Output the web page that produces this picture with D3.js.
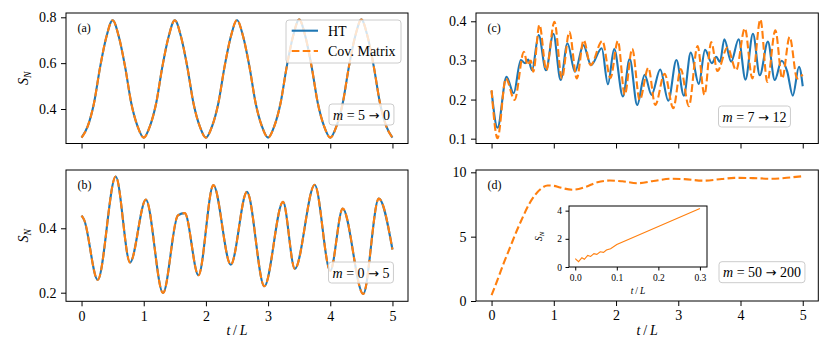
<!DOCTYPE html>
<html><head><meta charset="utf-8">
<script src="https://cdn.jsdelivr.net/npm/d3@7"></script>
<style>
body{margin:0;background:#fff}
svg{display:block}
text{font-family:"Liberation Serif","Times New Roman",serif;fill:#000}
</style>
</head><body>
<svg id="chart" width="830" height="352"></svg>
<script>
// ---------------- DATA ----------------
const xTicks = [0, 1, 2, 3, 4, 5];
const seriesNames = ["HT", "Cov. Matrix"];
const panelLabels = ["(a)", "(b)", "(c)", "(d)"];
const quenchLabels = [["5", "0"], ["0", "5"], ["7", "12"], ["50", "200"]];

// (a) m = 5 -> 0
const aT = [0,0.1,0.2,0.3,0.4,0.5,0.6,0.7,0.8,0.9,1,1.1,1.2,1.3,1.4,1.5,1.6,1.7,1.8,1.9,2,2.1,2.2,2.3,2.4,2.5,2.6,2.7,2.8,2.9,3,3.1,3.2,3.3,3.4,3.5,3.6,3.7,3.8,3.9,4,4.1,4.2,4.3,4.4,4.5,4.6,4.7,4.8,4.9,5];
const aHT = [0.275,0.325,0.425,0.585,0.715,0.787,0.715,0.585,0.425,0.325,
             0.275,0.325,0.425,0.585,0.715,0.787,0.715,0.585,0.425,0.325,
             0.275,0.325,0.425,0.585,0.715,0.788,0.715,0.585,0.425,0.325,
             0.275,0.325,0.425,0.585,0.716,0.790,0.716,0.585,0.425,0.325,
             0.275,0.325,0.425,0.585,0.716,0.790,0.716,0.585,0.425,0.325,0.275];
const aCov = aHT.slice();
const aYTicks = [0.4, 0.6, 0.8];

// (b) m = 0 -> 5
const bT  = [0,0.04,0.26,0.55,0.78,1.035,1.31,1.55,1.66,1.88,2.12,2.40,2.66,2.94,3.24,3.43,3.75,4.0,4.20,4.53,4.78,5.0];
const bHT = [0.439,0.427,0.240,0.561,0.294,0.489,0.199,0.440,0.447,0.254,0.534,0.287,0.513,0.220,0.482,0.274,0.535,0.268,0.461,0.196,0.492,0.334];
const bCov = bHT.slice();
const bYTicks = [0.2, 0.4];

// (c) m = 7 -> 12
const cT_HT = [0,0.096,0.24,0.355,0.47,0.54,0.59,0.65,0.757,0.874,0.993,1.11,1.22,1.34,1.475,1.60,1.77,1.87,1.97,2.11,2.22,2.34,2.46,2.57,2.71,2.84,2.97,3.09,3.20,3.33,3.43,3.54,3.61,3.67,3.74,3.85,3.97,4.08,4.20,4.31,4.44,4.55,4.66,4.75,4.84,4.94,5.0];
const cHT   = [0.222,0.128,0.258,0.216,0.301,0.293,0.302,0.275,0.365,0.275,0.368,0.250,0.344,0.271,0.339,0.288,0.331,0.239,0.329,0.208,0.304,0.186,0.263,0.212,0.277,0.197,0.301,0.210,0.320,0.240,0.327,0.293,0.309,0.296,0.354,0.297,0.354,0.251,0.368,0.262,0.348,0.250,0.299,0.272,0.210,0.284,0.234];
const cT_Cov = [0,0.096,0.23,0.37,0.52,0.58,0.63,0.67,0.77,0.88,1.01,1.13,1.25,1.37,1.48,1.59,1.78,1.91,2.03,2.14,2.26,2.38,2.52,2.63,2.78,2.92,3.04,3.17,3.31,3.42,3.53,3.63,3.79,3.93,4.07,4.19,4.32,4.43,4.56,4.67,4.79,4.91,5.0];
const cCov   = [0.224,0.101,0.254,0.199,0.322,0.288,0.300,0.271,0.391,0.275,0.399,0.254,0.373,0.254,0.352,0.288,0.350,0.255,0.350,0.212,0.330,0.199,0.281,0.186,0.266,0.178,0.278,0.183,0.337,0.212,0.347,0.273,0.333,0.275,0.382,0.254,0.405,0.245,0.377,0.254,0.360,0.254,0.264];
const cYTicks = [0.1, 0.2, 0.3, 0.4];

// (d) m = 50 -> 200
const dT   = [0,0.1,0.2,0.3,0.4,0.5,0.6,0.7,0.8,0.9,1.0,1.1,1.3,1.5,1.7,1.9,2.1,2.35,2.6,2.9,3.1,3.4,3.7,3.9,4.2,4.5,4.8,5.0];
const dCov = [0.45,1.7,3.0,4.2,5.4,6.5,7.5,8.25,8.75,8.98,8.95,8.82,8.65,8.85,9.22,9.36,9.30,9.15,9.33,9.50,9.47,9.35,9.48,9.57,9.55,9.50,9.60,9.70];
const dYTicks = [0, 5, 10];

// inset of (d)
const iT   = [0,0.008,0.016,0.022,0.03,0.037,0.045,0.052,0.06,0.068,0.075,0.085,0.1,0.15,0.2,0.25,0.3];
const iCov = [0.60,0.38,0.66,0.55,0.82,0.75,0.95,0.90,1.08,1.04,1.20,1.30,1.60,2.24,2.88,3.51,4.15];
const iXTicks = [0, 0.1, 0.2, 0.3];
const iYTicks = [0, 2, 4];

// ---------------- STYLE ----------------
const BLUE = "#1f77b4", ORANGE = "#ff7f0e";
const LW = 2.1, DASH = "7.7,3.3";
const SERIF = '"Liberation Serif","Times New Roman",serif';
const svg = d3.select("#chart");

function italicParts(sel, parts) {
  parts.forEach(p => {
    const ts = sel.append("tspan").text(p.t);
    if (p.i) ts.style("font-style", "italic");
    if (p.font) ts.style("font-family", p.font);
    if (p.fs) ts.attr("font-size", p.fs);
    if (p.sub) ts.attr("font-size", p.sub).attr("dy", p.dy || 0);
  });
}

function makePanel(box, xDom, yDom, yTicks, opts) {
  const g = svg.append("g");
  const x = d3.scaleLinear().domain(xDom).range([box.l, box.r]);
  const y = d3.scaleLinear().domain(yDom).range([box.b, box.t]);
  const fs = opts.fs || 14;
  const tl = opts.tl || 5;
  const xa = d3.axisBottom(x).tickValues(opts.xTicks).tickSizeOuter(0).tickSize(tl).tickPadding(opts.pad || 4.5)
    .tickFormat(opts.showX ? (opts.xfmt || d3.format("d")) : () => "");
  const ya = d3.axisLeft(y).tickValues(yTicks).tickSizeOuter(0).tickSize(tl).tickPadding(opts.pad || 4.5)
    .tickFormat(opts.yfmt || (d => String(d)));
  const gx = g.append("g").attr("transform", `translate(0,${box.b})`).call(xa);
  const gy = g.append("g").attr("transform", `translate(${box.l},0)`).call(ya);
  [gx, gy].forEach(a => {
    a.attr("font-family", null).attr("font-size", null);
    a.select(".domain").remove();
    a.selectAll("line").attr("stroke", "#000").attr("stroke-width", 1);
    a.selectAll("text").style("font-size", fs + "px").style("font-family", SERIF).attr("fill", "#000");
  });
  g.append("rect").attr("x", box.l).attr("y", box.t).attr("width", box.r - box.l).attr("height", box.b - box.t)
    .attr("fill", "none").attr("stroke", "#000").attr("stroke-width", 1);
  return { g, x, y };
}

function drawLine(p, xs, ys, color, dashed, lw, curve) {
  const pts = xs.map((t, i) => [t, ys[i]]);
  const line = d3.line().x(d => p.x(d[0])).y(d => p.y(d[1])).curve(curve || d3.curveMonotoneX);
  p.g.append("path").datum(pts).attr("d", line).attr("fill", "none").attr("stroke", color)
    .attr("stroke-width", lw || LW).attr("stroke-dasharray", dashed ? DASH : null);
}

function panelLabel(p, box, txt) {
  p.g.append("text").attr("x", box.l + 11.5).attr("y", box.t + 19).attr("font-size", 12).text(txt);
}

function quenchBox(p, left, top, lab) {
  const gg = p.g.append("g");
  const rect = gg.append("rect");
  const tx = gg.append("text").attr("x", left + 4).attr("y", top + 15.5).attr("font-size", 14);
  italicParts(tx, [{ t: "m", i: true }, { t: " = " + lab[0] + " " }, { t: "\u2192", font: '"DejaVu Sans",sans-serif', fs: 13 }, { t: " " + lab[1] }]);
  const w = tx.node().getComputedTextLength() + 8;
  rect.attr("x", left).attr("y", top).attr("width", w).attr("height", 21).attr("rx", 3)
    .attr("fill", "#fff").attr("fill-opacity", 0.8).attr("stroke", "#cccccc").attr("stroke-width", 1);
}

function yLabel(cx, cy, fs) {
  const t = svg.append("text").attr("transform", `translate(${cx},${cy}) rotate(-90)`)
    .attr("text-anchor", "middle").attr("font-size", fs);
  italicParts(t, [{ t: "S", i: true }, { t: "N", i: true, sub: fs * 0.7, dy: fs * 0.22 }]);
}
function xLabel(cx, by, fs) {
  const t = svg.append("text").attr("x", cx).attr("y", by).attr("text-anchor", "middle").attr("font-size", fs);
  italicParts(t, [{ t: "t", i: true }, { t: "\u2009/\u2009" }, { t: "L", i: true }]);
}

const XDOM = [-0.25, 5.25];
// (a)
const boxA = { l: 66, r: 408, t: 13, b: 143.5 };
const pA = makePanel(boxA, XDOM, [0.2495, 0.8188], aYTicks, { xTicks, showX: false });
drawLine(pA, aT, aHT, BLUE, false);
drawLine(pA, aT, aCov, ORANGE, true);
panelLabel(pA, boxA, panelLabels[0]);
quenchBox(pA, 329, 104, quenchLabels[0]);
// legend
const lg = pA.g.append("g");
lg.append("rect").attr("x", 286).attr("y", 20).attr("width", 115).attr("height", 43).attr("rx", 3)
  .attr("fill", "#fff").attr("fill-opacity", 0.8).attr("stroke", "#cccccc").attr("stroke-width", 1);
[[BLUE, false, 30.7], [ORANGE, true, 51]].forEach((s, i) => {
  lg.append("line").attr("x1", 291.7).attr("x2", 318).attr("y1", s[2]).attr("y2", s[2])
    .attr("stroke", s[0]).attr("stroke-width", LW).attr("stroke-dasharray", s[1] ? DASH : null);
  lg.append("text").attr("x", 328).attr("y", s[2] + 5).attr("font-size", 14).text(seriesNames[i]);
});
yLabel(28, (boxA.t + boxA.b) / 2, 14);

// (b)
const boxB = { l: 66, r: 408, t: 170, b: 301.3 };
const pB = makePanel(boxB, XDOM, [0.1733, 0.581], bYTicks, { xTicks, showX: true });
drawLine(pB, bT, bHT, BLUE, false);
drawLine(pB, bT, bCov, ORANGE, true);
panelLabel(pB, boxB, panelLabels[1]);
quenchBox(pB, 328.5, 262, quenchLabels[1]);
yLabel(28, (boxB.t + boxB.b) / 2, 14);
xLabel((boxB.l + boxB.r) / 2, 335, 14);

// (c)
const boxC = { l: 476, r: 818.3, t: 13, b: 143.5 };
const pC = makePanel(boxC, XDOM, [0.0877, 0.4212], cYTicks, { xTicks, showX: false });
drawLine(pC, cT_HT, cHT, BLUE, false);
drawLine(pC, cT_Cov, cCov, ORANGE, true);
panelLabel(pC, boxC, panelLabels[2]);
quenchBox(pC, 718.5, 106, quenchLabels[2]);

// (d)
const boxD = { l: 476, r: 818.3, t: 170, b: 301 };
const pD = makePanel(boxD, XDOM, [0, 10.18], dYTicks, { xTicks, showX: true });
drawLine(pD, dT, dCov, ORANGE, true);
panelLabel(pD, boxD, panelLabels[3]);
quenchBox(pD, 719, 261.7, quenchLabels[3]);
xLabel((boxD.l + boxD.r) / 2, 335, 14);

// inset
const boxI = { l: 569, r: 707, t: 206, b: 267 };
svg.append("rect").attr("x", boxI.l).attr("y", boxI.t).attr("width", boxI.r - boxI.l).attr("height", boxI.b - boxI.t).attr("fill", "#fff");
const pI = makePanel(boxI, [-0.015, 0.317], [0, 4.33], iYTicks, { xTicks: iXTicks, showX: true, fs: 9.5, tl: 3.5, pad: 3.5, xfmt: d3.format(".1f") });
drawLine(pI, iT, iCov, ORANGE, false, 1.1, d3.curveLinear);
yLabel(542, (boxI.t + boxI.b) / 2, 9.5);
xLabel((boxI.l + boxI.r) / 2, 294, 9.5);
</script>
</body></html>
